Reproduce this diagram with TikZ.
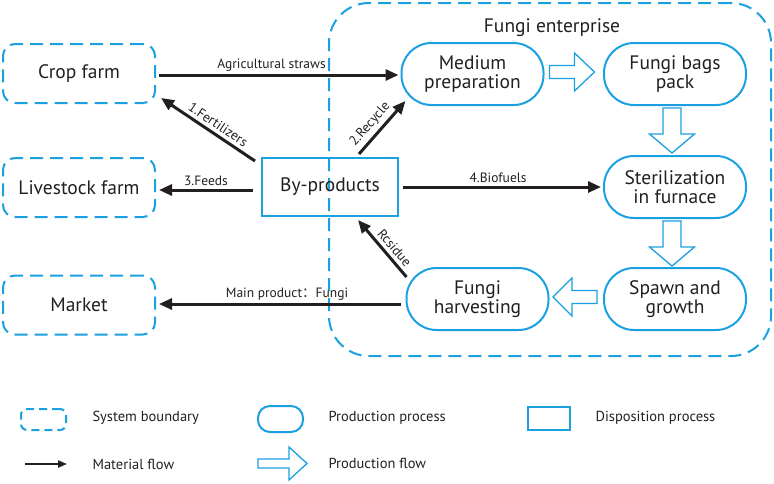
\documentclass[tikz,border=0pt]{standalone}
\usepackage{fontspec}
\setmainfont{PT Sans}
\newfontfamily\cjk{Noto Sans CJK SC}
\usetikzlibrary{arrows.meta,calc}
\definecolor{bl}{RGB}{27,160,225}
\definecolor{ink}{RGB}{35,31,32}
\begin{document}
\begin{tikzpicture}[x=1pt,y=-1pt,
  sysbound/.style={draw=bl, line width=2pt, dash pattern=on 13pt off 7pt, rounded corners=12pt,
    minimum width=152pt, minimum height=59pt, font=\fontsize{19.5}{20}\selectfont, text=ink},
  prodproc/.style={draw=bl, line width=2pt, rounded corners=30pt, minimum width=142pt, minimum height=62pt,
    align=center, font=\fontsize{19.5}{19.5}\selectfont, text=ink},
  dispproc/.style={draw=bl, line width=2pt, minimum width=136pt, minimum height=58pt,
    font=\fontsize{19.5}{20}\selectfont, text=ink},
  mflow/.style={draw=ink, line width=3pt, -{Triangle[length=13pt,width=11pt]}},
  lab/.style={font=\fontsize{13.5}{15}\selectfont, text=ink, inner sep=1.5pt},
  leglab/.style={font=\fontsize{14.5}{16}\selectfont, text=ink, anchor=west},
  pflow/.style={draw=bl, line width=1.3pt, fill=white, line join=miter},
  pics/blk/.style n args={4}{code={
    \draw[pflow] (0,-#3) -- (#2,-#3) -- (#2,-#4) -- (#1,0) -- (#2,#4) -- (#2,#3) -- (0,#3) -- cycle;}}
]
\useasboundingbox (0,0) rectangle (774,483);

% Fungi enterprise boundary
\node[sysbound, rounded corners=40pt, minimum width=442pt, minimum height=353pt] (ent) at (550,179.5) {};
\node[font=\fontsize{19.5}{20}\selectfont, text=ink] (entlab) at (552,28) {Fungi enterprise};

% outside systems
\node[sysbound] (crop) at (79,73.5) {Crop farm};
\node[sysbound] (live) at (79,187.5) {Livestock farm};
\node[sysbound] (market) at (79,305) {Market};

% by-products
\node[dispproc] (byp) at (330,187) {By-products};

% production processes
\node[prodproc] (medium) at (472.5,74) {Medium\\preparation};
\node[prodproc] (bags) at (675,74) {Fungi bags\\pack};
\node[prodproc] (ster) at (675,187) {Sterilization\\in furnace};
\node[prodproc] (spawn) at (675,299) {Spawn and\\growth};
\node[prodproc] (harv) at (477.5,299) {Fungi\\harvesting};

% production flows
\pic at ($(medium.east)+(5,-2)$) {blk={45}{25}{6.5}{19}};
\pic[rotate=-90] at ($(bags.south)+(-3,2)$) {blk={45}{26}{9}{22.5}};
\pic[rotate=-90] at ($(ster.south)+(-3,2)$) {blk={45}{26}{9}{22.5}};
\pic[rotate=180] at ($(spawn.west)+(-6,-2)$) {blk={44}{25}{6.5}{19}};

% material flows
\draw[mflow] ($(crop.east)+(3,1.5)$) -- node[lab, above=1pt, pos=0.47] {Agricultural straws} ($(medium.west)+(-2,1)$);
\draw[mflow] ($(byp.north west)+(-6,4)$) -- node[lab, sloped, above=2pt, pos=0.45] {1.Fertilizers} ($(crop.south east)+(5,-6)$);
\draw[mflow] ($(byp.north)+(29,-3)$) -- node[lab, sloped, above=2pt, pos=0.42] {2.Recycle} ($(medium.south west)+(5,-5)$);
\draw[mflow] ($(byp.west)+(-8,3)$) -- node[lab, above=1pt, pos=0.5] {3.Feeds} ($(live.east)+(3,2.5)$);
\draw[mflow] ($(byp.east)+(4,0)$) -- node[lab, above=1pt, pos=0.48] {4.Biofuels} ($(ster.west)+(-2,0)$);
\draw[mflow] ($(harv.north west)+(1,10)$) -- node[lab, sloped, above=2pt, pos=0.4] {Rcsidue} ($(byp.south)+(28,3)$);
\draw[mflow] ($(harv.west)+(-5,5)$) -- node[lab, above=1pt, pos=0.47] {Main product{\cjk ：}Fungi} ($(market.east)+(3,-1)$);

% legend
\node[sysbound, rounded corners=6pt, dash pattern=on 8pt off 5pt, minimum width=45pt, minimum height=21pt] (lsb) at (43.5,419.5) {};
\node[leglab] (lsbt) at (89,418) {System boundary};
\node[prodproc, rounded corners=12pt, minimum width=45pt, minimum height=26pt] (lpp) at (280.5,419) {};
\node[leglab] (lppt) at (325,418) {Production process};
\node[dispproc, minimum width=42pt, minimum height=23pt] (ldp) at (549,418.5) {};
\node[leglab] (ldpt) at (592,418) {Disposition process};
\coordinate (lm1) at (25,464);
\coordinate (lm2) at (67,464);
\draw[draw=ink, line width=2pt, -{Triangle[length=9pt,width=7pt]}] (lm1) -- (lm2);
\node[leglab] (lmt) at (89,464) {Material flow};
\pic at (258,463.5) {blk={49}{31}{4.5}{16.5}};
\node[leglab] (lpft) at (325,463) {Production flow};
\end{tikzpicture}
\end{document}
